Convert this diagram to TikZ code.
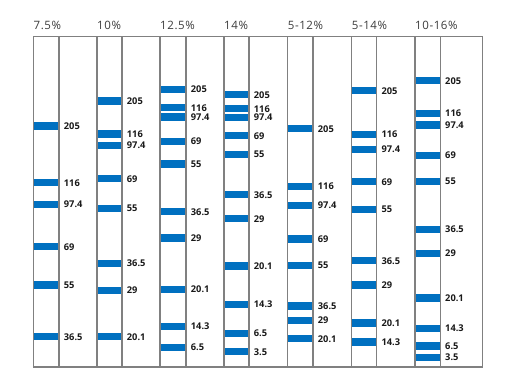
\documentclass[tikz,border=0pt]{standalone}
\usepackage{fontspec}
\setmainfont{Open Sans}
\newfontfamily\headfont[LetterSpace=5]{Open Sans}
\definecolor{bandblue}{RGB}{0,112,192}
\definecolor{rulegray}{RGB}{128,128,128}
\definecolor{headgray}{RGB}{60,60,60}
\definecolor{numblack}{RGB}{25,25,25}
\tikzset{
  rule/.style={draw=rulegray, line width=1.3pt},
  head/.style={inner sep=0pt, text=headgray, font=\headfont\fontsize{11.5}{12}\selectfont},
  num/.style={inner sep=0pt, text=numblack, font=\bfseries\fontsize{9.3}{10}\selectfont},
  band/.style={fill=bandblue, draw=none, inner sep=0pt, minimum height=7.5pt},
}
\newcommand\gellane[5]{%
  \node[head, anchor=base west] (h#1) at (#2,29.4) {#4};
  \foreach \yy/\lab [count=\i] in {#5} {
    \node[band, minimum width=#3-#2, anchor=west] (b#1-\i) at (#2,\yy) {};
    \node[num, anchor=west] (l#1-\i) at ([xshift=4.3pt]b#1-\i.east) {\lab};
  }%
}
\begin{document}
\begin{tikzpicture}[x=1pt,y=-1pt]
\path[use as bounding box, fill=white] (0,0) rectangle (511,390);
\gellane{a}{33.5}{59}{7.5\%}{126/205,182.7/116,204.7/97.4,246.7/69,285/55,336.7/36.5}
\gellane{b}{97}{122}{10\%}{101/205,134/116,145.7/97.4,178.7/69,208.3/55,263.3/36.5,290.3/29,336.7/20.1}
\gellane{c}{160}{186}{12.5\%}{89.3/205,107.7/116,117/97.4,141.3/69,164/55,211.7/36.5,238/29,289.3/20.1,326.3/14.3,347.7/6.5}
\gellane{d}{224}{249}{14\%}{94.7/205,108.7/116,117.7/97.4,135.7/69,154.7/55,194.7/36.5,218.7/29,266/20.1,304.3/14.3,333.7/6.5,351.7/3.5}
\gellane{e}{287.7}{313}{5-12\%}{128.7/205,186.3/116,205.3/97.4,239/69,265.3/55,306/36.5,320.3/29,338.7/20.1}
\gellane{f}{351.7}{376.7}{5-14\%}{90.7/205,134.3/116,149.3/97.4,181.7/69,209.3/55,260.7/36.5,285/29,323/20.1,342/14.3}
\gellane{g}{415}{440.3}{10-16\%}{80.7/205,113.3/116,125/97.4,155.3/69,181.3/55,229.3/36.5,253.3/29,298/20.1,328.3/14.3,346/6.5,357.3/3.5}
\foreach \x in {59,97,122,160,186,224,249,287.7,313,351.7,376.7,415,440.3}
  \draw[rule] (\x,36.7) -- (\x,366.7);
\draw[rule] (33.5,366.7) -- (33.5,36.7) -- (482.3,36.7) -- (482.3,366.7);
\draw[rule, line width=2pt] (32.85,366.7) -- (482.95,366.7);
\end{tikzpicture}
\end{document}
